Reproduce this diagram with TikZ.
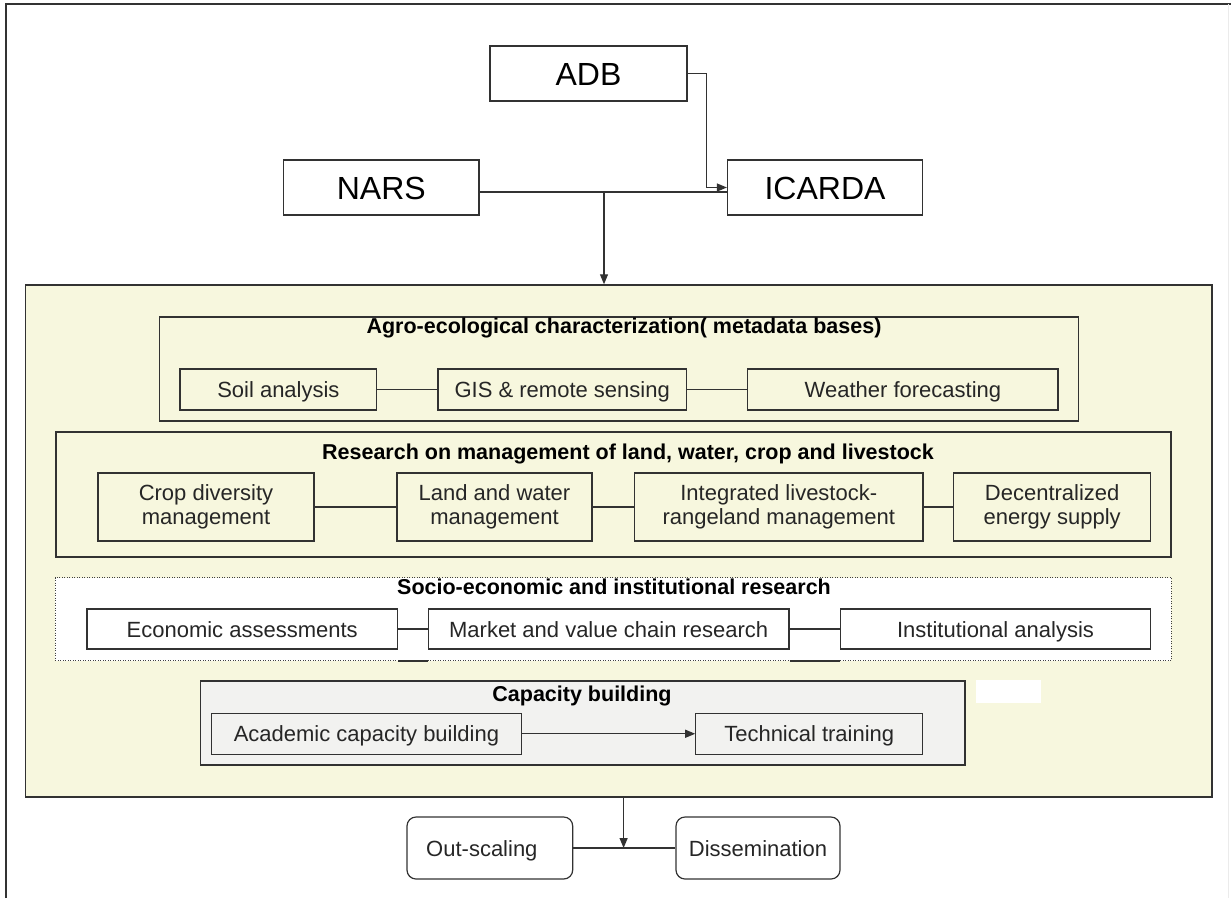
\documentclass[tikz,border=0pt]{standalone}
\usepackage{fontspec}
\setmainfont{Liberation Sans}
\usetikzlibrary{arrows.meta}
\definecolor{panelfill}{RGB}{247,247,222}
\definecolor{capfill}{RGB}{242,242,240}
\definecolor{linec}{RGB}{50,50,50}
\begin{document}
\begin{tikzpicture}[x=1pt,y=-1pt,
  bx/.style={draw=linec, line width=1.2pt, rectangle, inner sep=0pt, font=\fontsize{22}{24}\selectfont, text=black!85, align=center},
  one/.style={text height=16pt, text depth=0pt},
  big/.style={draw=linec, line width=1.2pt, inner sep=0pt, font=\fontsize{32}{36}\selectfont, text height=23pt, text depth=0pt},
  ttl/.style={font=\bfseries\fontsize{21.5}{24}\selectfont, anchor=base, inner sep=0pt},
  grp/.style={draw=linec, line width=1.2pt, inner sep=0pt},
  conn/.style={draw=linec, line width=1.2pt},
  arr/.style={conn, -{Triangle[length=10pt,width=8pt]}},
]
\useasboundingbox (0,0) rectangle (1231,898);
% outer frame
\draw[line width=2pt, black!80] (6,898) -- (6,4) -- (1231,4);
\draw[line width=1pt, black!8] (1228,4) -- (1228,898);

% top boxes
\node[big, minimum width=197pt, minimum height=55pt] (ADB) at (588.5,73.5) {ADB};
\node[big, minimum width=195.4pt, minimum height=55pt] (NARS) at (381.3,187.5) {NARS};
\node[big, minimum width=195pt, minimum height=55pt] (ICARDA) at (825,187.5) {ICARDA};

% main panel
\node[grp, fill=panelfill, line width=1.5pt, minimum width=1186.3pt, minimum height=512pt] (panel) at (618.85,541) {};

\draw[arr] (ADB.east) -- ++(18.5,0) |- (ICARDA.west);
\draw[conn] ([yshift=-4.5pt]NARS.east) -- ([yshift=-4.5pt]ICARDA.west);
\coordinate (j1) at (604,192);
\draw[arr] (j1) -- (j1 |- panel.north);

% agro-ecological
\node[grp, minimum width=919.2pt, minimum height=104pt] (agro) at (618.9,369) {};
\node[ttl] (agrot) at (624,333.5) {Agro-ecological characterization( metadata bases)};
\node[bx, one, minimum width=196.8pt, minimum height=41pt] (soil) at (278.4,389.5) {Soil analysis};
\node[bx, one, minimum width=248.4pt, minimum height=41pt] (gis) at (562.2,389.5) {GIS \& remote sensing};
\node[bx, one, minimum width=310.2pt, minimum height=41pt] (weather) at (902.9,389.5) {Weather forecasting};
\draw[conn] (soil) -- (gis);
\draw[conn] (gis) -- (weather);

% research
\node[grp, minimum width=1115pt, minimum height=125pt] (res) at (613.5,494.5) {};
\node[ttl] (rest) at (628,459) {Research on management of land, water, crop and livestock};
\node[bx, minimum width=216pt, minimum height=68pt] (crop) at (206,507) {Crop diversity\\management};
\node[bx, minimum width=195pt, minimum height=68pt] (land) at (494.5,507) {Land and water\\management};
\node[bx, minimum width=288.3pt, minimum height=68pt] (integ) at (778.75,507) {Integrated livestock-\\rangeland management};
\node[bx, minimum width=196.8pt, minimum height=68pt] (decen) at (1052.2,507) {Decentralized\\energy supply};
\draw[conn] (crop) -- (land);
\draw[conn] (land) -- (integ);
\draw[conn] (integ) -- (decen);

% socio-economic
\node[draw=black!75, dash pattern=on 1pt off 1.5pt, line width=1pt, fill=white, inner sep=0pt, minimum width=1116.1pt, minimum height=83pt] (socio) at (613.35,619.2) {};
\node[ttl] (sociot) at (614,594.3) {Socio-economic and institutional research};
\node[bx, one, fill=white, minimum width=310.4pt, minimum height=40pt] (econ) at (242.2,629) {Economic assessments};
\node[bx, one, fill=white, minimum width=360.6pt, minimum height=40pt] (market) at (608.7,629) {Market and value chain research};
\node[bx, one, fill=white, minimum width=310pt, minimum height=40pt] (inst) at (995.5,629) {Institutional analysis};
\draw[conn] (econ) -- (market);
\draw[conn] (market) -- (inst);
\draw[conn, line width=1.6pt] (econ.east |- socio.south) -- (market.west |- socio.south);
\draw[conn, line width=1.6pt] (market.east |- socio.south) -- (inst.west |- socio.south);

% capacity building
\node[grp, fill=capfill, minimum width=764.3pt, minimum height=84pt] (cap) at (582.85,723) {};
\node[ttl] (capt) at (582,701.7) {Capacity building};
\node[bx, one, minimum width=309.9pt, minimum height=41pt] (acad) at (366.45,733.75) {Academic capacity building};
\node[bx, one, minimum width=226.9pt, minimum height=41pt] (tech) at (809.25,733.75) {Technical training};
\draw[arr] (acad) -- (tech);
\node[fill=white, inner sep=0pt, minimum width=64.6pt, minimum height=23pt] (patch) at (1008.3,691.5) {};

% bottom
\node[bx, one, rounded corners=9pt, minimum width=165.7pt, minimum height=62pt] (out) at (489.85,848) {Out-scaling\hspace{16pt}};
\node[bx, one, rounded corners=9pt, minimum width=164pt, minimum height=62pt] (dis) at (758,848) {Dissemination};
\coordinate (j2) at (623.6,848);
\draw[conn] (out) -- (dis);
\draw[arr] (j2 |- panel.south) -- (j2);
\end{tikzpicture}
\end{document}
